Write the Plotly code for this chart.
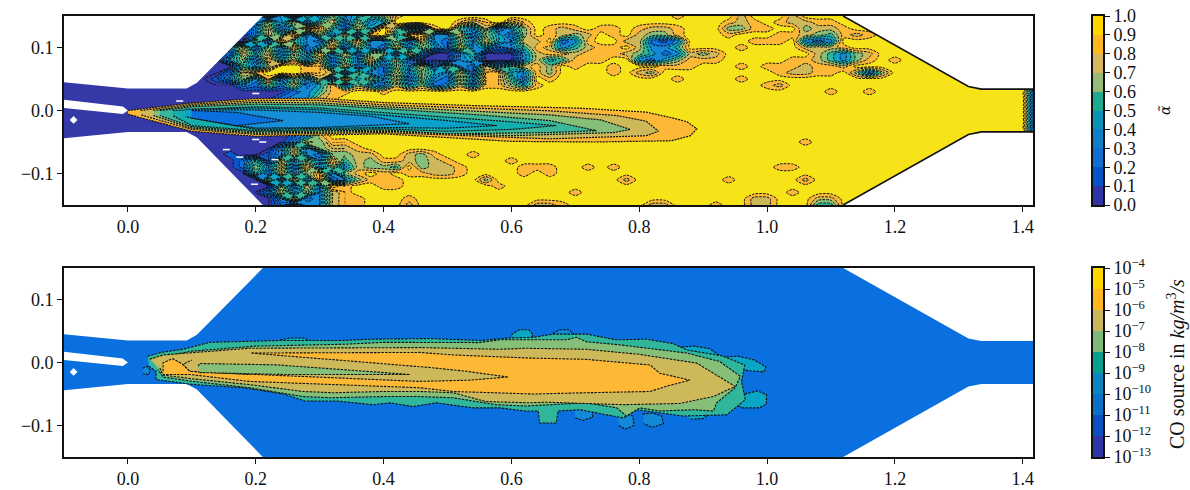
import plotly.graph_objects as go

# ---------- data ----------
ALPHA_TICKS = [round(i * 0.1, 1) for i in range(11)]
CO_TICK_LABELS = ["10<sup>\u2212%d</sup>" % n for n in range(13, 3, -1)]
X_TICKS = [0.0, 0.2, 0.4, 0.6, 0.8, 1.0, 1.2, 1.4]
Y_TICKS = [-0.1, 0.0, 0.1]

FIELD_COLORS = ["#3539a8", "#0a55c8", "#0a6fdf", "#1288d6", "#0aa6c6",
                "#2fb69b", "#86bf78", "#cdb85a", "#fdb935", "#f6e318"]
JET_COLORS = {8: "#fdb935", 7: "#cdb85a", 6: "#86bf78", 5: "#3ab79a",
              4: "#15aeae", 3: "#09a0cc", 2: "#1590d8", 1: "#0a6fdf"}
BAR_COLORS = ["#2f35a5", "#0a52c8", "#0f6fd0", "#0f7fc7", "#0a92b8",
              "#1fa98f", "#97ba78", "#d8b560", "#ffb81f", "#ffd700"]
CO_BAR_COLORS = ["#2f35a5", "#0a50c0", "#0a70c8", "#0a85c0", "#0aa090",
                 "#7dba78", "#cbb55f", "#ffb81f", "#ffd700"]

# level index (0-9) of alpha on a grid: x = -0.10 ... 1.42 step 0.02, y = 0.15 ... -0.15 step -0.01
ALPHA_ROWS = [
 "00000 00000 00000 30405 36345 68999 99999 99999 99999 99989 99979 99799 99999 99999 99999 99",
 "00000 00000 00000 26372 57263 49999 98789 78999 99999 99999 99878 98778 89999 99999 99999 99",
 "00000 00000 00000 37258 85274 96228 95372 46987 89889 87789 99668 89967 78999 99999 99999 99",
 "00000 00000 00000 37592 63728 94893 37264 26987 67989 76689 99899 98876 58789 99999 99999 99",
 "00000 00000 00000 62953 27483 36273 26374 37792 38997 72139 99998 88932 39999 99999 99999 99",
 "00000 00000 00037 26382 48263 27364 27342 35873 57889 73359 99989 99977 78999 99999 99999 99",
 "00000 00000 00027 47263 83726 62730 03500 03788 78887 64237 67999 99997 53679 99999 99999 99",
 "00000 00000 00046 28473 72638 36200 03400 03745 88899 32468 88999 99887 53689 89999 99999 99",
 "00000 00000 00005 36998 83725 26372 63274 57869 89989 99888 99989 88878 87999 99999 99999 99",
 "00000 00000 00027 89998 87263 27364 37288 43869 99989 76999 99999 98778 89626 99999 99999 99",
 "00000 00000 00136 38263 72846 37263 27388 52989 99999 99989 99989 99999 99999 99999 99999 99",
 "00000 00000 00003 26372 48263 27362 37288 64899 99999 99999 99999 87999 99999 99999 99999 99",
 "00000 00000 00000 00023 58899 89999 99999 99999 99999 99999 99999 99999 89989 99999 99999 90",
 "00000 00000 00000 00233 78999 99999 99999 99999 99999 99999 99999 99999 99999 99999 99999 90",
 "00000 00000 00001 12349 99999 99999 99999 99999 99999 99999 99999 99999 99999 99999 99999 90",
 "00000 00000 00001 12999 99999 99999 99999 99999 99999 99999 99999 99999 99999 99999 99999 90",
 "00000 00000 00001 12999 99999 99999 99999 99999 99999 99999 99999 99999 99999 99999 99999 90",
 "00000 00000 00001 12999 99999 99999 99999 99999 99999 99999 99999 99999 99999 99999 99999 90",
 "00000 00000 00000 12349 99999 99999 99999 99999 99999 99999 99999 99999 99999 99999 99999 90",
 "00000 00000 00000 00013 79999 99999 99999 99999 99999 99999 99999 99999 99999 99999 99999 99",
 "00000 00000 00000 00037 68899 99999 99999 99999 99999 99999 99999 99989 99999 99999 99999 99",
 "00000 00000 00000 00373 67789 99999 99999 99999 99999 99999 99999 99999 99999 99999 99999 99",
 "00000 00000 00010 01373 26677 99768 99899 99999 99999 99999 99999 99999 99999 99999 99999 99",
 "00000 00000 00002 51736 38576 88767 89999 89999 99999 99999 99999 99999 99999 99999 99999 99",
 "00000 00000 00002 63728 36376 65967 78999 98889 98989 99999 99999 98899 99999 99999 99999 99",
 "00000 00000 00000 52736 83689 89887 78999 98989 99999 99999 99999 99999 99999 99999 99999 99",
 "00000 00000 00000 06273 82368 88999 99969 99999 99997 99999 99899 99979 99999 99999 99999 99",
 "00000 00000 00000 00627 39899 88999 99998 99999 99999 99999 99999 99999 99999 99999 99999 99",
 "00000 00000 00000 02736 37899 99999 99999 99999 89999 99999 99999 99899 99999 99999 99999 99",
 "00000 00000 00000 00372 37889 99899 99999 99999 99999 99999 99997 79997 79999 99999 99999 99",
 "00000 00000 00000 00203 37889 99799 99999 99778 99999 97799 98997 79995 59999 99999 99999 99",
]

# nozzle wall
WALL_X = [-0.10, 0.0, 0.092, 0.108, 0.211, 1.119, 1.315, 1.335, 1.42]
WALL_UP = [0.045, 0.035, 0.035, 0.044, 0.15, 0.15, 0.038, 0.034, 0.034]
WALL_LOW = [-0.044, -0.034, -0.034, -0.043, -0.15, -0.15, -0.038, -0.034, -0.034]
LANCE_X = [-0.10, -0.008, 0.0, -0.008, -0.10]
LANCE_Y = [0.017, 0.0065, 0.0, -0.0055, 0.004]
HOLE_X = [-0.085]
HOLE_Y = [-0.015]
SPECK_X = [0.081, 0.20, 0.20, 0.211, 0.154, 0.175, 0.23, 0.198]
SPECK_Y = [0.015, 0.027, -0.046, -0.050, -0.062, -0.074, -0.078, -0.117]

# nested alpha levels of the central jet: (level, x, y)
JET_LEVELS = [
 (8, [0.0,0.1,0.2,0.3,0.4,0.55,0.707,0.811,0.853,0.875,0.89,0.88,0.85,0.73,0.6,0.4,0.2,0.1,0.0],
     [0.0,0.012,0.019,0.0195,0.0126,0.0075,0.0037,-0.0026,-0.012,-0.018,-0.029,-0.04,-0.048,-0.05,-0.049,-0.037,-0.041,-0.033,-0.006]),
 (7, [0.02,0.1,0.2,0.3,0.4,0.66,0.765,0.811,0.83,0.811,0.66,0.4,0.2,0.1,0.02],
     [0.0,0.01,0.016,0.016,0.009,-0.0005,-0.008,-0.017,-0.033,-0.04,-0.045,-0.035,-0.038,-0.03,-0.007]),
 (6, [0.04,0.1,0.2,0.3,0.4,0.55,0.66,0.74,0.786,0.76,0.6,0.4,0.2,0.1,0.04],
     [0.0,0.008,0.013,0.012,0.006,-0.0016,-0.007,-0.015,-0.03,-0.035,-0.04,-0.033,-0.036,-0.028,-0.008]),
 (5, [0.05,0.1,0.2,0.3,0.4,0.55,0.66,0.733,0.66,0.5,0.4,0.2,0.1,0.05],
     [0.0,0.006,0.01,0.009,0.003,-0.007,-0.016,-0.032,-0.035,-0.037,-0.031,-0.034,-0.026,-0.008]),
 (4, [0.07,0.2,0.3,0.4,0.5,0.6,0.67,0.6,0.5,0.4,0.2,0.1,0.07],
     [0.0,0.006,0.004,-0.003,-0.010,-0.018,-0.024,-0.030,-0.033,-0.029,-0.032,-0.024,-0.008]),
 (3, [0.09,0.2,0.3,0.4,0.5,0.577,0.5,0.4,0.2,0.09],
     [0.002,0.004,0.001,-0.007,-0.016,-0.024,-0.028,-0.027,-0.030,-0.010]),
 (2, [0.10,0.2,0.3,0.38,0.44,0.38,0.3,0.2,0.10],
     [0.001,0.001,-0.003,-0.009,-0.021,-0.024,-0.027,-0.028,-0.012]),
 (1, [0.10,0.17,0.243,0.17,0.10],
     [0.0,-0.003,-0.016,-0.024,-0.012]),
]

# CO source regions: (level, x, y)
CO_LEVELS = [
 (3, [0.023,0.030,0.035,0.033,0.024], [-0.009,-0.006,-0.012,-0.019,-0.018]),
 (4, [0.600,0.612,0.627,0.634,0.628,0.606], [0.044,0.052,0.052,0.044,0.033,0.033]),
 (3, [0.665,0.675,0.690,0.698,0.690,0.668], [0.046,0.052,0.052,0.045,0.040,0.040]),
 (4, [0.238,0.255,0.275,0.287,0.275,0.245], [0.036,0.039,0.039,0.034,0.032,0.032]),
 (4, [0.855,0.885,0.91,0.93,0.90,0.87], [0.024,0.026,0.022,0.008,0.012,0.010]),
 (4, [0.925,0.955,0.98,0.998,0.995,0.96,0.93], [0.008,0.010,0.004,-0.007,-0.015,-0.012,0.0]),
 (4, [0.965,0.985,0.999,0.999,0.988,0.962,0.945], [-0.05,-0.045,-0.051,-0.066,-0.072,-0.072,-0.065]),
 (3, [0.698,0.712,0.727,0.727,0.712,0.70], [-0.075,-0.073,-0.078,-0.087,-0.092,-0.088]),
 (3, [0.765,0.778,0.79,0.792,0.778,0.768], [-0.082,-0.08,-0.085,-0.1,-0.106,-0.1]),
 (3, [0.805,0.82,0.835,0.838,0.82,0.807], [-0.082,-0.08,-0.085,-0.097,-0.103,-0.097]),
 (4, [0.87,0.89,0.91,0.90,0.88], [-0.08,-0.078,-0.08,-0.089,-0.09]),
 (5, [0.031,0.052,0.086,0.128,0.24,0.337,0.38,0.473,0.553,0.597,0.634,0.665,0.717,0.764,0.811,0.853,0.874,0.93,0.965,0.96,0.966,0.937,0.869,0.832,0.796,0.775,0.707,0.673,0.67,0.644,0.642,0.621,0.582,0.54,0.482,0.446,0.41,0.384,0.358,0.326,0.277,0.243,0.18,0.102,0.044,0.044,0.033],
     [0.01,0.016,0.021,0.032,0.035,0.035,0.037,0.038,0.035,0.039,0.040,0.045,0.045,0.036,0.037,0.030,0.020,0.0105,-0.004,-0.03,-0.059,-0.083,-0.085,-0.08,-0.075,-0.088,-0.075,-0.077,-0.096,-0.096,-0.077,-0.077,-0.072,-0.072,-0.064,-0.07,-0.064,-0.067,-0.064,-0.061,-0.061,-0.05,-0.04,-0.035,-0.027,-0.014,-0.006]),
 (6, [0.036,0.1,0.2,0.34,0.40,0.473,0.55,0.582,0.686,0.702,0.717,0.77,0.874,0.926,0.958,0.95,0.921,0.916,0.885,0.832,0.801,0.78,0.765,0.717,0.623,0.576,0.509,0.456,0.4,0.316,0.274,0.19,0.102,0.055,0.047],
     [0.006,0.018,0.026,0.029,0.032,0.032,0.0316,0.036,0.036,0.04,0.033,0.028,0.015,0.0016,-0.022,-0.04,-0.064,-0.077,-0.075,-0.077,-0.072,-0.085,-0.072,-0.064,-0.069,-0.067,-0.056,-0.054,-0.054,-0.056,-0.054,-0.04,-0.03,-0.023,-0.011]),
 (7, [0.034,0.055,0.19,0.456,0.582,0.623,0.717,0.80,0.89,0.95,0.916,0.864,0.775,0.725,0.655,0.629,0.56,0.509,0.456,0.4,0.321,0.274,0.19,0.102,0.055,0.05],
     [0.005,0.012,0.0226,0.0237,0.021,0.0226,0.021,0.013,-0.001,-0.038,-0.054,-0.065,-0.067,-0.065,-0.063,-0.064,-0.062,-0.048,-0.046,-0.046,-0.048,-0.046,-0.035,-0.026,-0.02,-0.0085]),
 (8, [0.055,0.055,0.07,0.086,0.097,0.19,0.193,0.456,0.509,0.629,0.717,0.817,0.832,0.879,0.845,0.817,0.717,0.634,0.509,0.456,0.321,0.19,0.097,0.055],
     [-0.014,-0.0005,0.006,-0.003,-0.014,-0.019,0.015,0.016,0.012,0.007,0.005,-0.004,-0.017,-0.028,-0.037,-0.046,-0.048,-0.05,-0.046,-0.04,-0.035,-0.03,-0.019,-0.019]),
 (7, [0.193,0.295,0.473,0.53,0.595,0.535,0.456,0.2,0.097,0.086,0.1],
     [0.015,0.007,-0.008,-0.014,-0.023,-0.028,-0.03,-0.019,-0.014,-0.003,0.004]),
 (6, [0.11,0.112,0.232,0.441,0.243,0.112],
     [-0.006,-0.0016,-0.0037,-0.019,-0.019,-0.016]),
]

# ---------- figure ----------
W, H = 1190, 490
LINE = "#111111"
fig = go.Figure()

def poly(xs, ys, fill, ax, ay, line=None, dash="2.5px,1.2px", width=1.0):
    fig.add_trace(go.Scatter(
        x=xs, y=ys, mode="lines", fill="toself", fillcolor=fill,
        line=dict(color=line or fill, width=width if line else 0, dash=dash),
        xaxis=ax, yaxis=ay, hoverinfo="skip", showlegend=False))

# top field
grid_x = [round(-0.10 + 0.02 * i, 2) for i in range(77)]
grid_y = [round(0.15 - 0.01 * i, 2) for i in range(31)]
z = [[(int(c) + 0.5) / 10 for c in "".join(r.split()).ljust(77, "9")[:77]] for r in ALPHA_ROWS]
scale = []
for i, c in enumerate(FIELD_COLORS):
    scale += [[i / 10, c], [(i + 1) / 10, c]]
fig.add_trace(go.Contour(
    x=grid_x, y=grid_y, z=z, zmin=0, zmax=1, autocontour=False,
    contours=dict(start=0.1, end=0.9, size=0.1, coloring="fill"),
    line=dict(color="#111111", width=1.0, dash="2.5px,1.2px", smoothing=0.7),
    colorscale=scale, showscale=False, hoverinfo="skip", xaxis="x", yaxis="y"))

# the turbulent shear zones carry many more iso-lines: same values, finer line spacing
for x0, x1, y0, y1 in ((0.12, 0.62, 0.04, 0.15), (0.18, 0.34, -0.15, -0.05)):
    cols = [i for i, x in enumerate(grid_x) if x0 <= x <= x1]
    rows = [j for j, y in enumerate(grid_y) if y0 <= y <= y1]
    fig.add_trace(go.Contour(
        x=[grid_x[i] for i in cols], y=[grid_y[j] for j in rows],
        z=[[z[j][i] for i in cols] for j in rows], zmin=0, zmax=1, autocontour=False,
        contours=dict(start=0.05, end=0.85, size=0.1, coloring="lines"),
        line=dict(color="#111111", width=1.1, dash="2.5px,1.2px", smoothing=0.7),
        colorscale=[[0, "#111111"], [1, "#111111"]], showscale=False, hoverinfo="skip",
        xaxis="x", yaxis="y"))

for lev, xs, ys in JET_LEVELS:
    poly(xs, ys, JET_COLORS[lev], "x", "y", line=LINE, width=1.2, dash="2px,1px")

# mask outside of the nozzle, lance and small holes
for ax, ay in (("x", "y"), ("x2", "y2")):
    if ax == "x2":
        poly(WALL_X + WALL_X[::-1], WALL_UP + WALL_LOW[::-1], FIELD_COLORS[2], ax, ay)
        for lev, xs, ys in CO_LEVELS:
            poly(xs, ys, FIELD_COLORS[lev], ax, ay, line=LINE, width=1.1)
    else:
        poly(WALL_X + [1.42, -0.10], WALL_UP + [0.16, 0.16], "white", ax, ay)
        poly(WALL_X + [1.42, -0.10], WALL_LOW + [-0.16, -0.16], "white", ax, ay)
    poly(LANCE_X, LANCE_Y, "white", ax, ay)
    fig.add_trace(go.Scatter(x=HOLE_X, y=HOLE_Y, mode="markers",
                             marker=dict(symbol="diamond", size=6, color="white"),
                             xaxis=ax, yaxis=ay, hoverinfo="skip", showlegend=False))

fig.add_trace(go.Scatter(x=SPECK_X, y=SPECK_Y, mode="markers",
                         marker=dict(symbol="line-ew", size=5, line=dict(color="white", width=1.5)),
                         xaxis="x", yaxis="y", hoverinfo="skip", showlegend=False))
fig.add_trace(go.Scatter(x=WALL_X[5:], y=WALL_UP[5:], mode="lines", line=dict(color="#111111", width=1.6),
                         xaxis="x", yaxis="y", hoverinfo="skip", showlegend=False))
fig.add_trace(go.Scatter(x=WALL_X[5:], y=WALL_LOW[5:], mode="lines", line=dict(color="#111111", width=1.6),
                         xaxis="x", yaxis="y", hoverinfo="skip", showlegend=False))

# colour bars
def discrete(colors):
    out, n = [], len(colors)
    for i, c in enumerate(colors):
        out += [[i / n, c], [(i + 1) / n, c]]
    return out

fig.add_trace(go.Heatmap(x=[0, 1], y=ALPHA_TICKS, z=[[i] for i in range(10)],
                         zmin=0, zmax=10 - 1, colorscale=discrete(BAR_COLORS), showscale=False,
                         hoverinfo="skip", xaxis="x3", yaxis="y3"))
fig.add_trace(go.Heatmap(x=[0, 1], y=list(range(10)), z=[[i] for i in range(9)],
                         zmin=0, zmax=9 - 1, colorscale=discrete(CO_BAR_COLORS), showscale=False,
                         hoverinfo="skip", xaxis="x4", yaxis="y4"))

FONT = dict(family="Liberation Serif", size=18, color="#111111")
axis = dict(showgrid=False, zeroline=False, showline=True, linecolor="#111111", linewidth=1.6,
            mirror=True, ticks="outside", ticklen=5, tickwidth=1.3, tickcolor="#111111",
            tickfont=FONT, layer="above traces", automargin=False)
bar_x = dict(range=[0, 1], showticklabels=False, ticks="", showgrid=False, automargin=False,
             zeroline=False, showline=True, linecolor="#111111", linewidth=1.6, mirror=True)

def dom_y(top, bot):
    return [1 - bot / H, 1 - top / H]

XDOM = [64 / W, 1033 / W]
BDOM = [1093 / W, 1103 / W]
fig.update_layout(
    template="none",
    width=W, height=H, margin=dict(l=0, r=0, t=0, b=0, pad=0), autosize=False,
    paper_bgcolor="white", plot_bgcolor="white", font=FONT, showlegend=False,
    xaxis=dict(axis, domain=XDOM, range=[-0.1, 1.416], tickvals=X_TICKS, tickformat=".1f", anchor="y"),
    yaxis=dict(axis, domain=dom_y(16, 205), range=[-0.15, 0.15], tickvals=Y_TICKS, tickformat=".1f", anchor="x"),
    xaxis2=dict(axis, domain=XDOM, range=[-0.1, 1.416], tickvals=X_TICKS, tickformat=".1f", anchor="y2"),
    yaxis2=dict(axis, domain=dom_y(268, 457), range=[-0.15, 0.15], tickvals=Y_TICKS, tickformat=".1f", anchor="x2"),
    xaxis3=dict(bar_x, domain=BDOM, anchor="y3"),
    yaxis3=dict(axis, domain=dom_y(16, 205), range=[0, 1], side="right", anchor="x3",
                tickvals=ALPHA_TICKS, ticktext=["%.1f" % t for t in ALPHA_TICKS]),
    xaxis4=dict(bar_x, domain=BDOM, anchor="y4"),
    yaxis4=dict(axis, domain=dom_y(268, 457), range=[0, 9], side="right", anchor="x4",
                tickvals=list(range(10)), ticktext=CO_TICK_LABELS),
    annotations=[
        dict(text="<i>\u03b1\u0303</i>", x=1165 / W, y=1 - 110 / H, xref="paper", yref="paper",
             xanchor="center", yanchor="middle", showarrow=False, textangle=-90,
             font=dict(family="DejaVu Serif", size=14, color="#111111")),
        dict(text="CO source in <i>kg/m</i><sup>3</sup><i>/s</i>", x=1176 / W, y=1 - 364 / H,
             xref="paper", yref="paper", xanchor="center", yanchor="middle", showarrow=False, textangle=-90,
             font=dict(family="Liberation Serif", size=20, color="#111111")),
    ],
)
fig.write_html("out.html", config={"displayModeBar": False},
               post_script="document.body.style.margin='0';")
